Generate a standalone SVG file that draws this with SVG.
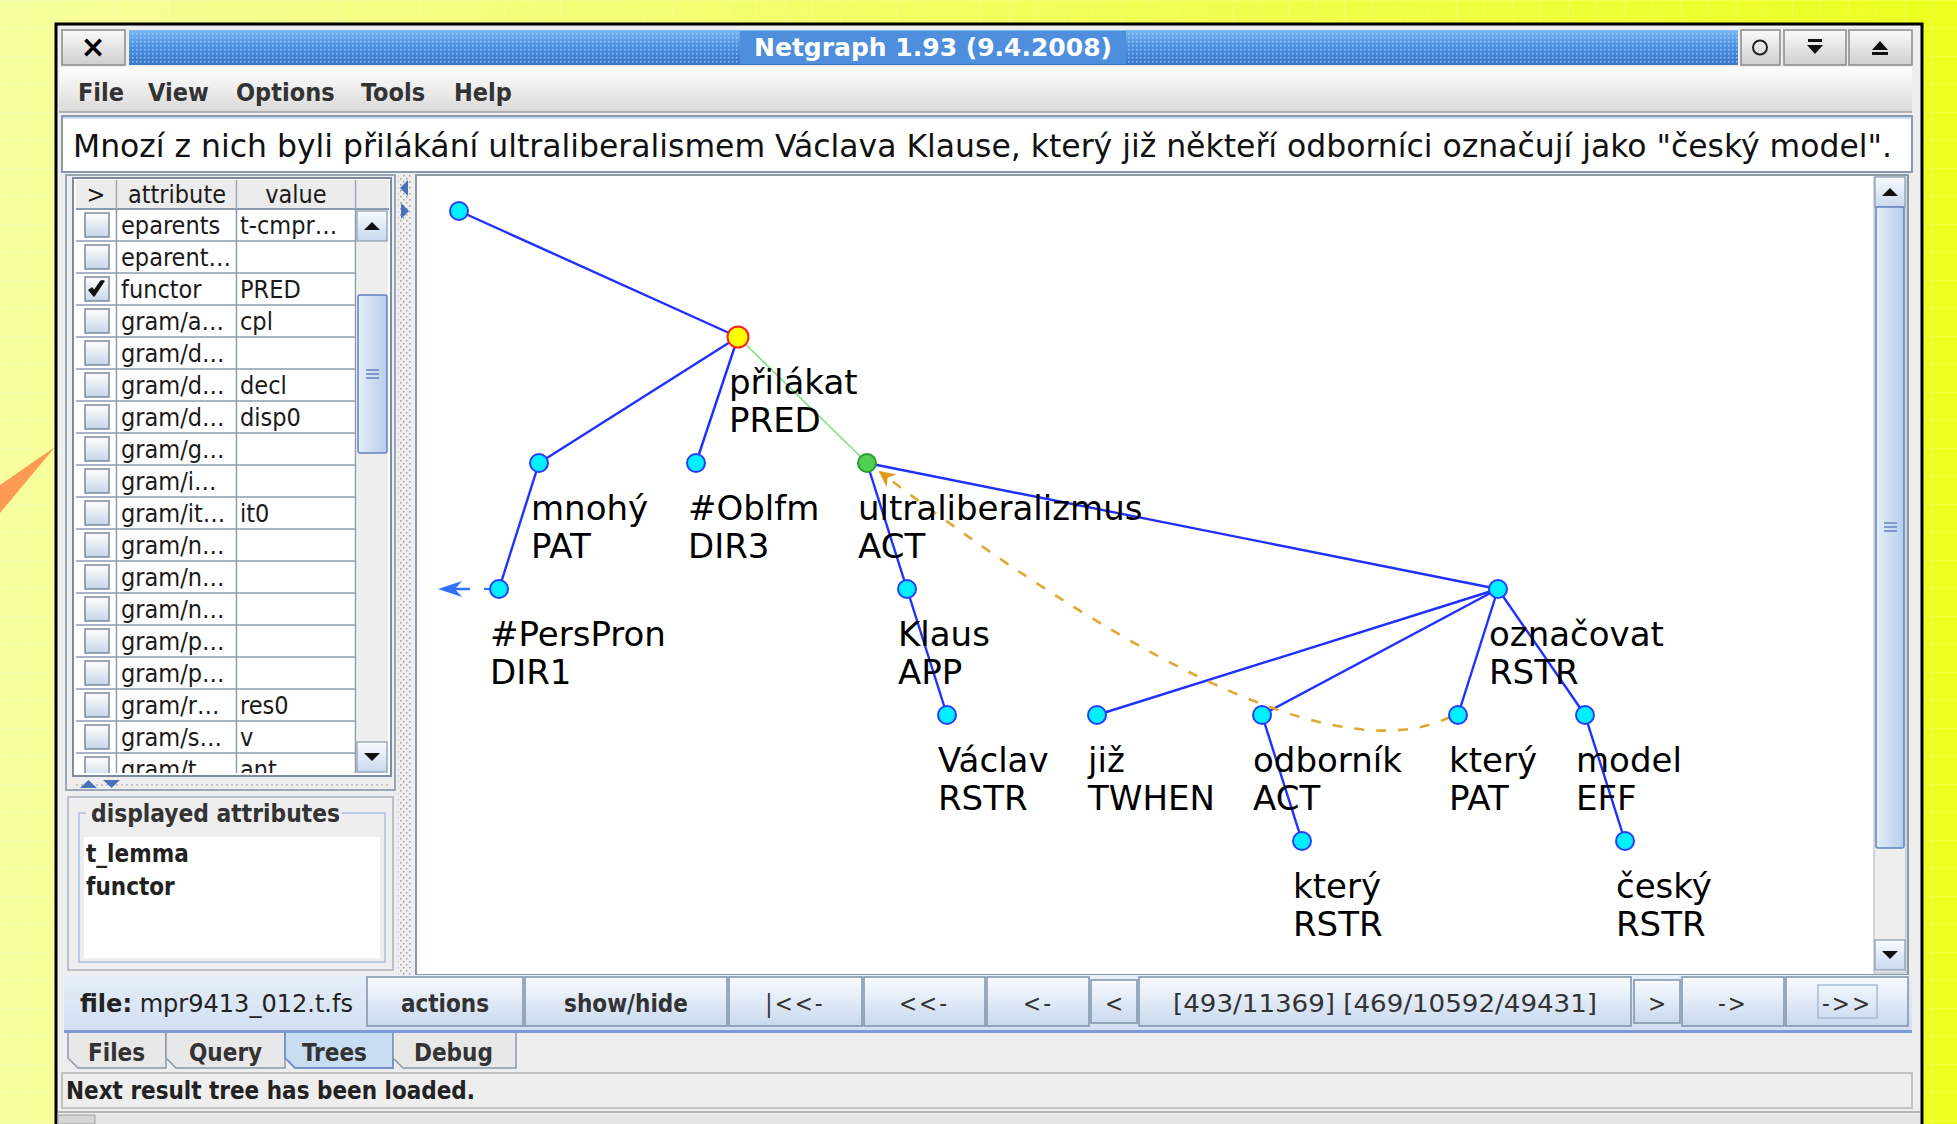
<svg xmlns="http://www.w3.org/2000/svg" width="1957" height="1124" viewBox="0 0 1957 1124">
<defs>
<style>
.ui{font-family:'DejaVu Sans Condensed','DejaVu Sans',sans-serif;font-stretch:condensed}
.b{font-weight:bold}
.lbl{font-family:'DejaVu Sans',sans-serif;font-size:34px;fill:#000}
.tt{font-size:25px;fill:#1a1a1a}
.mn{font-size:25px;fill:#333;font-weight:bold}
.btn{fill:url(#gBtn);stroke:#7f92a8;stroke-width:1.5}
.btxt{font-size:24px;fill:#333;text-anchor:middle}
.edge{stroke:#2030ff;stroke-width:2.4;fill:none}
.nd{fill:#00f0ff;stroke:#2a3cff;stroke-width:2}
.cb{fill:url(#gCb);stroke:#7b8a9a;stroke-width:1.5}
.rl{stroke:#8c9cb0;stroke-width:1.5}
</style>
<linearGradient id="gBg" x1="0" y1="0" x2="1" y2="0"><stop offset="0" stop-color="#f6ff9c"/><stop offset="1" stop-color="#ecff20"/></linearGradient>
<linearGradient id="gTitle" x1="0" y1="0" x2="0" y2="1"><stop offset="0" stop-color="#7ab6f2"/><stop offset="0.5" stop-color="#4a8fe0"/><stop offset="1" stop-color="#3a76c6"/></linearGradient>
<linearGradient id="gGray" x1="0" y1="0" x2="0" y2="1"><stop offset="0" stop-color="#fafafa"/><stop offset="1" stop-color="#cfcfcf"/></linearGradient>
<linearGradient id="gMenu" x1="0" y1="0" x2="0" y2="1"><stop offset="0" stop-color="#ffffff"/><stop offset="1" stop-color="#dadada"/></linearGradient>
<linearGradient id="gBtn" x1="0" y1="0" x2="0" y2="1"><stop offset="0" stop-color="#f8fbff"/><stop offset="1" stop-color="#c9d9ee"/></linearGradient>
<linearGradient id="gCb" x1="0" y1="0" x2="0" y2="1"><stop offset="0" stop-color="#ffffff"/><stop offset="1" stop-color="#c6d6e8"/></linearGradient>
<linearGradient id="gThumb" x1="0" y1="0" x2="1" y2="0"><stop offset="0" stop-color="#e4eefa"/><stop offset="1" stop-color="#b6cdea"/></linearGradient>
<linearGradient id="gTool" x1="0" y1="0" x2="0" y2="1"><stop offset="0" stop-color="#e6eef8"/><stop offset="1" stop-color="#d2e0f2"/></linearGradient>
<pattern id="pDots" width="4" height="4" patternUnits="userSpaceOnUse"><rect x="0" y="1" width="1.5" height="1.5" fill="#a8d0f8" opacity="0.8"/></pattern>
<pattern id="pGrid" width="28" height="28" patternUnits="userSpaceOnUse"><path d="M0 0.5H28M0.5 0V28" stroke="#ffffff" stroke-width="1" opacity="0.15" fill="none"/></pattern>
<pattern id="pSplit" width="6" height="6" patternUnits="userSpaceOnUse"><rect x="1" y="1" width="1.5" height="1.5" fill="#a0a0a0"/><rect x="4" y="4" width="1.5" height="1.5" fill="#a0a0a0"/></pattern>
<marker id="mOr" viewBox="0 0 10 10" refX="9" refY="5" markerWidth="16" markerHeight="16" markerUnits="userSpaceOnUse" orient="auto"><path d="M0,0 L10,5 L0,10 L3,5 Z" fill="#d89a18"/></marker>
<clipPath id="cTable"><rect x="76" y="180" width="313" height="593"/></clipPath>
</defs>

<!-- background -->
<rect width="1957" height="1124" fill="url(#gBg)"/>
<rect width="1957" height="1124" fill="url(#pGrid)"/>
<polygon points="0,485 55,447 0,513" fill="#ff9a55"/>

<!-- window -->
<rect x="56" y="24" width="1866" height="1115" fill="#eeeeee" stroke="#000" stroke-width="3"/>

<!-- title bar -->
<g id="titlebar">
<rect x="62" y="30" width="63" height="35" fill="url(#gGray)" stroke="#8a8a8a" stroke-width="1.5"/>
<text x="93" y="57" font-family="'DejaVu Sans',sans-serif" font-size="30" font-weight="bold" text-anchor="middle" fill="#000">×</text>
<rect x="129" y="30" width="1609" height="35" fill="url(#gTitle)"/>
<rect x="129" y="30" width="1609" height="35" fill="url(#pDots)"/>
<rect x="740" y="31" width="386" height="33" fill="#4d8fdd"/>
<text x="933" y="56" font-family="'DejaVu Sans',sans-serif" font-size="25" font-weight="bold" text-anchor="middle" fill="#ffffff">Netgraph 1.93 (9.4.2008)</text>
<rect x="1741" y="30" width="39" height="35" fill="url(#gGray)" stroke="#8a8a8a" stroke-width="1.5"/>
<circle cx="1760" cy="47.5" r="7" fill="none" stroke="#222" stroke-width="2"/>
<rect x="1784" y="30" width="62" height="35" fill="url(#gGray)" stroke="#8a8a8a" stroke-width="1.5"/>
<rect x="1808" y="39" width="14" height="3" fill="#111"/>
<polygon points="1807,45 1823,45 1815,54" fill="#111"/>
<rect x="1849" y="30" width="63" height="35" fill="url(#gGray)" stroke="#8a8a8a" stroke-width="1.5"/>
<polygon points="1872,50 1888,50 1880,41" fill="#111"/>
<rect x="1872" y="52" width="16" height="3" fill="#111"/>
</g>

<!-- menu bar -->
<g id="menubar">
<rect x="59" y="67" width="1853" height="45" fill="url(#gMenu)"/>
<line x1="59" y1="112" x2="1912" y2="112" stroke="#a0a0a0" stroke-width="1.5"/>
<text class="ui mn" x="78" y="101">File</text>
<text class="ui mn" x="148" y="101">View</text>
<text class="ui mn" x="236" y="101">Options</text>
<text class="ui mn" x="361" y="101">Tools</text>
<text class="ui mn" x="454" y="101">Help</text>
</g>

<!-- sentence -->
<g id="sentence">
<rect x="62" y="116" width="1850" height="56" fill="#ffffff" stroke="#8a9aac" stroke-width="2"/>
<line x1="63" y1="118" x2="1911" y2="118" stroke="#c8daf0" stroke-width="2"/>
<text class="ui" x="73" y="157" font-size="32" fill="#111" textLength="1819" lengthAdjust="spacingAndGlyphs">Mnozí z nich byli přilákání ultraliberalismem Václava Klause, který již někteří odborníci označují jako "český model".</text>
</g>

<!-- left panel: attribute table -->
<g id="attrtable">
<rect x="66" y="175" width="329" height="615" fill="#eeeeee" stroke="#98a8b8" stroke-width="2"/>
<rect x="73" y="178" width="318" height="598" fill="#ffffff" stroke="#7b8ca0" stroke-width="2"/>
<rect x="76" y="180" width="313" height="29" fill="#ececec"/>
<line x1="76" y1="209" x2="389" y2="209" stroke="#8c9cb0" stroke-width="2"/>
<line x1="116.5" y1="180" x2="116.5" y2="209" stroke="#a0a8b4" stroke-width="1.5"/>
<line x1="236.5" y1="180" x2="236.5" y2="209" stroke="#a0a8b4" stroke-width="1.5"/>
<line x1="355.5" y1="180" x2="355.5" y2="209" stroke="#a0a8b4" stroke-width="1.5"/>
<text class="ui tt" x="96" y="203" text-anchor="middle">&gt;</text>
<text class="ui tt" x="177" y="203" text-anchor="middle">attribute</text>
<text class="ui tt" x="296" y="203" text-anchor="middle">value</text>
<g clip-path="url(#cTable)">
<line class="rl" x1="116.5" y1="209" x2="116.5" y2="773"/>
<line class="rl" x1="236.5" y1="209" x2="236.5" y2="773"/>
<line class="rl" x1="355.5" y1="209" x2="355.5" y2="773"/>
<line class="rl" x1="76" y1="241" x2="356" y2="241"/>
<line class="rl" x1="76" y1="273" x2="356" y2="273"/>
<line class="rl" x1="76" y1="305" x2="356" y2="305"/>
<line class="rl" x1="76" y1="337" x2="356" y2="337"/>
<line class="rl" x1="76" y1="369" x2="356" y2="369"/>
<line class="rl" x1="76" y1="401" x2="356" y2="401"/>
<line class="rl" x1="76" y1="433" x2="356" y2="433"/>
<line class="rl" x1="76" y1="465" x2="356" y2="465"/>
<line class="rl" x1="76" y1="497" x2="356" y2="497"/>
<line class="rl" x1="76" y1="529" x2="356" y2="529"/>
<line class="rl" x1="76" y1="561" x2="356" y2="561"/>
<line class="rl" x1="76" y1="593" x2="356" y2="593"/>
<line class="rl" x1="76" y1="625" x2="356" y2="625"/>
<line class="rl" x1="76" y1="657" x2="356" y2="657"/>
<line class="rl" x1="76" y1="689" x2="356" y2="689"/>
<line class="rl" x1="76" y1="721" x2="356" y2="721"/>
<line class="rl" x1="76" y1="753" x2="356" y2="753"/>
<rect class="cb" x="85" y="213" width="24" height="24"/>
<rect class="cb" x="85" y="245" width="24" height="24"/>
<rect class="cb" x="85" y="277" width="24" height="24"/>
<rect class="cb" x="85" y="309" width="24" height="24"/>
<rect class="cb" x="85" y="341" width="24" height="24"/>
<rect class="cb" x="85" y="373" width="24" height="24"/>
<rect class="cb" x="85" y="405" width="24" height="24"/>
<rect class="cb" x="85" y="437" width="24" height="24"/>
<rect class="cb" x="85" y="469" width="24" height="24"/>
<rect class="cb" x="85" y="501" width="24" height="24"/>
<rect class="cb" x="85" y="533" width="24" height="24"/>
<rect class="cb" x="85" y="565" width="24" height="24"/>
<rect class="cb" x="85" y="597" width="24" height="24"/>
<rect class="cb" x="85" y="629" width="24" height="24"/>
<rect class="cb" x="85" y="661" width="24" height="24"/>
<rect class="cb" x="85" y="693" width="24" height="24"/>
<rect class="cb" x="85" y="725" width="24" height="24"/>
<rect class="cb" x="85" y="757" width="24" height="24"/>
<path d="M89,290 L94,296 L104,281 L101,281 L94,291 L92,288 Z" fill="#111" stroke="#111" stroke-width="1.5" stroke-linejoin="round"/>
<text class="ui tt" x="121" y="234">eparents</text><text class="ui tt" x="240" y="234">t-cmpr…</text>
<text class="ui tt" x="121" y="266">eparent…</text>
<text class="ui tt" x="121" y="298">functor</text><text class="ui tt" x="240" y="298">PRED</text>
<text class="ui tt" x="121" y="330">gram/a…</text><text class="ui tt" x="240" y="330">cpl</text>
<text class="ui tt" x="121" y="362">gram/d…</text>
<text class="ui tt" x="121" y="394">gram/d…</text><text class="ui tt" x="240" y="394">decl</text>
<text class="ui tt" x="121" y="426">gram/d…</text><text class="ui tt" x="240" y="426">disp0</text>
<text class="ui tt" x="121" y="458">gram/g…</text>
<text class="ui tt" x="121" y="490">gram/i…</text>
<text class="ui tt" x="121" y="522">gram/it…</text><text class="ui tt" x="240" y="522">it0</text>
<text class="ui tt" x="121" y="554">gram/n…</text>
<text class="ui tt" x="121" y="586">gram/n…</text>
<text class="ui tt" x="121" y="618">gram/n…</text>
<text class="ui tt" x="121" y="650">gram/p…</text>
<text class="ui tt" x="121" y="682">gram/p…</text>
<text class="ui tt" x="121" y="714">gram/r…</text><text class="ui tt" x="240" y="714">res0</text>
<text class="ui tt" x="121" y="746">gram/s…</text><text class="ui tt" x="240" y="746">v</text>
<text class="ui tt" x="121" y="778">gram/t…</text><text class="ui tt" x="240" y="778">ant</text>
</g>
<rect x="357" y="210" width="31" height="563" fill="#eeeeee"/>
<rect x="357" y="211" width="30" height="30" fill="url(#gBtn)" stroke="#8a9ab0" stroke-width="1.2"/>
<polygon points="364,230 380,230 372,222" fill="#111"/>
<rect x="358" y="295" width="29" height="158" rx="2" fill="url(#gThumb)" stroke="#6383c0" stroke-width="1.5"/>
<path d="M366,370H379M366,374H379M366,378H379" stroke="#6383c0" stroke-width="1.3"/>
<rect x="357" y="742" width="30" height="30" fill="url(#gBtn)" stroke="#8a9ab0" stroke-width="1.2"/>
<polygon points="364,753 380,753 372,761" fill="#111"/>
<line x1="76" y1="785" x2="389" y2="785" stroke="#b8b8b8" stroke-width="1.5" stroke-dasharray="2 3"/>
<polygon points="80,788 97,788 88.5,780" fill="#4a70b8"/>
<polygon points="103,780 120,780 111.5,788" fill="#4a70b8"/>
</g>

<!-- left panel: displayed attributes -->
<g id="displayed">
<rect x="68" y="797" width="325" height="173" fill="#eeeeee" stroke="#a8b4c0" stroke-width="1.5"/>
<rect x="79" y="813" width="306" height="149" fill="none" stroke="#a8c0e0" stroke-width="1.5"/>
<rect x="86" y="802" width="256" height="26" fill="#eeeeee"/>
<text class="ui b" x="91" y="822" font-size="24" fill="#333" textLength="249" lengthAdjust="spacingAndGlyphs">displayed attributes</text>
<rect x="84" y="837" width="296" height="121" fill="#ffffff"/>
<text class="ui b" x="86" y="862" font-size="24" fill="#222">t_lemma</text>
<text class="ui b" x="86" y="895" font-size="24" fill="#222">functor</text>
</g>

<!-- splitter -->
<g id="splitter">
<rect x="398" y="175" width="14" height="800" fill="url(#pSplit)"/>
<polygon points="408,180 408,196 400,188" fill="#4a70b8"/>
<polygon points="401,203 401,219 409,211" fill="#4a70b8"/>
</g>

<!-- tree panel -->
<rect x="416" y="175" width="1492" height="800" fill="#ffffff" stroke="#8899aa" stroke-width="2"/>
<g id="treescroll">
<rect x="1874" y="177" width="32" height="796" fill="#eeeeee" stroke="#aab4c0" stroke-width="1"/>
<rect x="1875" y="177" width="30" height="30" fill="url(#gBtn)" stroke="#8a9ab0" stroke-width="1.2"/>
<polygon points="1882,196 1898,196 1890,188" fill="#111"/>
<rect x="1876" y="207" width="28" height="641" rx="2" fill="url(#gThumb)" stroke="#6383c0" stroke-width="1.5"/>
<path d="M1884,523H1897M1884,527H1897M1884,531H1897" stroke="#6383c0" stroke-width="1.3"/>
<rect x="1875" y="940" width="30" height="30" fill="url(#gBtn)" stroke="#8a9ab0" stroke-width="1.2"/>
<polygon points="1882,951 1898,951 1890,959" fill="#111"/>
</g>

<!-- connectors -->
<g id="connectors">
<line class="edge" x1="459" y1="211" x2="738" y2="337"/>
<line class="edge" x1="738" y1="337" x2="539" y2="463"/>
<line class="edge" x1="738" y1="337" x2="696" y2="463"/>
<line x1="738" y1="337" x2="867" y2="463" stroke="#80e080" stroke-width="1.6"/>
<line class="edge" x1="539" y1="463" x2="499" y2="589"/>
<line class="edge" x1="867" y1="463" x2="907" y2="589"/>
<line class="edge" x1="867" y1="463" x2="1498" y2="589"/>
<line class="edge" x1="907" y1="589" x2="947" y2="715"/>
<line class="edge" x1="1498" y1="589" x2="1097" y2="715"/>
<line class="edge" x1="1498" y1="589" x2="1262" y2="715"/>
<line class="edge" x1="1498" y1="589" x2="1458" y2="715"/>
<line class="edge" x1="1498" y1="589" x2="1585" y2="715"/>
<line class="edge" x1="1262" y1="715" x2="1302" y2="841"/>
<line class="edge" x1="1585" y1="715" x2="1625" y2="841"/>
<line x1="484" y1="589" x2="491" y2="589" stroke="#3070ff" stroke-width="2"/>
<line x1="446" y1="589" x2="470" y2="589" stroke="#3070ff" stroke-width="2.5"/>
<path d="M438,589 L462,581 L455,589 L462,597 Z" fill="#3070ff"/>
<path d="M1450,717 Q1300,790 880,472" fill="none" stroke="#e0a830" stroke-width="2.6" stroke-dasharray="10 12" marker-end="url(#mOr)"/>
</g>

<!-- nodes -->
<g id="n-root"><circle class="nd" cx="459" cy="211" r="9"/></g>
<g id="n-prilakat"><circle cx="738" cy="337" r="10.5" fill="#ffff00" stroke="#ff2020" stroke-width="2"/><text class="lbl" x="729" y="394">přilákat</text><text class="lbl" x="729" y="432">PRED</text></g>
<g id="n-mnohy"><circle class="nd" cx="539" cy="463" r="9"/><text class="lbl" x="531" y="520">mnohý</text><text class="lbl" x="531" y="558">PAT</text></g>
<g id="n-oblfm"><circle class="nd" cx="696" cy="463" r="9"/><text class="lbl" x="688" y="520">#Oblfm</text><text class="lbl" x="688" y="558">DIR3</text></g>
<g id="n-ultra"><circle cx="867" cy="463" r="9" fill="#50d050" stroke="#2c9a2c" stroke-width="2"/><text class="lbl" x="858" y="520">ultraliberalizmus</text><text class="lbl" x="858" y="558">ACT</text></g>
<g id="n-perspron"><circle class="nd" cx="499" cy="589" r="9"/><text class="lbl" x="490" y="646">#PersPron</text><text class="lbl" x="490" y="684">DIR1</text></g>
<g id="n-klaus"><circle class="nd" cx="907" cy="589" r="9"/><text class="lbl" x="898" y="646">Klaus</text><text class="lbl" x="898" y="684">APP</text></g>
<g id="n-oznacovat"><circle class="nd" cx="1498" cy="589" r="9"/><text class="lbl" x="1489" y="646">označovat</text><text class="lbl" x="1489" y="684">RSTR</text></g>
<g id="n-vaclav"><circle class="nd" cx="947" cy="715" r="9"/><text class="lbl" x="938" y="772">Václav</text><text class="lbl" x="938" y="810">RSTR</text></g>
<g id="n-jiz"><circle class="nd" cx="1097" cy="715" r="9"/><text class="lbl" x="1088" y="772">již</text><text class="lbl" x="1088" y="810">TWHEN</text></g>
<g id="n-odbornik"><circle class="nd" cx="1262" cy="715" r="9"/><text class="lbl" x="1253" y="772">odborník</text><text class="lbl" x="1253" y="810">ACT</text></g>
<g id="n-ktery-pat"><circle class="nd" cx="1458" cy="715" r="9"/><text class="lbl" x="1449" y="772">který</text><text class="lbl" x="1449" y="810">PAT</text></g>
<g id="n-model"><circle class="nd" cx="1585" cy="715" r="9"/><text class="lbl" x="1576" y="772">model</text><text class="lbl" x="1576" y="810">EFF</text></g>
<g id="n-ktery-rstr"><circle class="nd" cx="1302" cy="841" r="9"/><text class="lbl" x="1293" y="898">který</text><text class="lbl" x="1293" y="936">RSTR</text></g>
<g id="n-cesky"><circle class="nd" cx="1625" cy="841" r="9"/><text class="lbl" x="1616" y="898">český</text><text class="lbl" x="1616" y="936">RSTR</text></g>

<!-- toolbar -->
<g id="toolbar">
<rect x="64" y="975" width="1848" height="55" fill="url(#gTool)"/>
<line x1="64" y1="1031.5" x2="1912" y2="1031.5" stroke="#7d9ad2" stroke-width="3"/>
<text class="ui" x="80" y="1012" font-size="25" fill="#222" textLength="273" lengthAdjust="spacingAndGlyphs"><tspan font-weight="bold">file:</tspan> mpr9413_012.t.fs</text>
<rect class="btn" x="367" y="977" width="156" height="49"/><text class="ui b btxt" x="445" y="1012">actions</text>
<rect class="btn" x="525" y="977" width="202" height="49"/><text class="ui b btxt" x="626" y="1012">show/hide</text>
<rect class="btn" x="729" y="977" width="133" height="49"/><text class="ui btxt" x="795" y="1012" letter-spacing="2">|&lt;&lt;-</text>
<rect class="btn" x="864" y="977" width="121" height="49"/><text class="ui btxt" x="924" y="1012" letter-spacing="2">&lt;&lt;-</text>
<rect class="btn" x="987" y="977" width="102" height="49"/><text class="ui btxt" x="1038" y="1012" letter-spacing="2">&lt;-</text>
<rect class="btn" x="1091" y="980" width="46" height="43"/><text class="ui btxt" x="1114" y="1012">&lt;</text>
<rect class="btn" x="1139" y="977" width="492" height="49"/><text class="ui btxt" x="1385" y="1012" textLength="424" lengthAdjust="spacingAndGlyphs">[493/11369]  [469/10592/49431]</text>
<rect class="btn" x="1634" y="980" width="46" height="43"/><text class="ui btxt" x="1657" y="1012">&gt;</text>
<rect class="btn" x="1682" y="977" width="102" height="49"/><text class="ui btxt" x="1733" y="1012" letter-spacing="2">-&gt;</text>
<rect class="btn" x="1786" y="977" width="122" height="49"/><rect x="1818" y="985" width="59" height="33" fill="none" stroke="#a8bcd8" stroke-width="1.5"/><text class="ui btxt" x="1847" y="1012" letter-spacing="2">-&gt;&gt;</text>
</g>

<!-- tabs -->
<g id="tabs">
<path d="M68,1033 V1058 L78,1068 H166 V1033" fill="#e8e8e8" stroke="#8a98a8" stroke-width="1.5"/>
<path d="M166,1033 V1058 L176,1068 H285 V1033" fill="#e8e8e8" stroke="#8a98a8" stroke-width="1.5"/>
<path d="M285,1033 V1058 L295,1068 H393 V1033" fill="#c8dcf2" stroke="#6f8fc8" stroke-width="1.8"/>
<path d="M393,1033 V1058 L403,1068 H516 V1033" fill="#e8e8e8" stroke="#8a98a8" stroke-width="1.5"/>
<text class="ui b" x="88" y="1061" font-size="24" fill="#333">Files</text>
<text class="ui b" x="189" y="1061" font-size="24" fill="#333">Query</text>
<text class="ui b" x="302" y="1061" font-size="24" fill="#333">Trees</text>
<text class="ui b" x="414" y="1061" font-size="24" fill="#333">Debug</text>
</g>

<!-- status bar -->
<g id="status">
<rect x="62" y="1073" width="1850" height="35" fill="#eeeeee" stroke="#b4b4b4" stroke-width="1.5"/>
<text class="ui b" x="66" y="1099" font-size="24" fill="#222" textLength="409" lengthAdjust="spacingAndGlyphs">Next result tree has been loaded.</text>
<line x1="58" y1="1112" x2="1920" y2="1112" stroke="#a0a0a0" stroke-width="1.5"/>
<rect x="58" y="1115" width="1862" height="9" fill="#e6e6e6"/>
<rect x="58" y="1115" width="37" height="9" fill="#d6d6d6" stroke="#a0a0a0" stroke-width="1"/>
</g>
</svg>
